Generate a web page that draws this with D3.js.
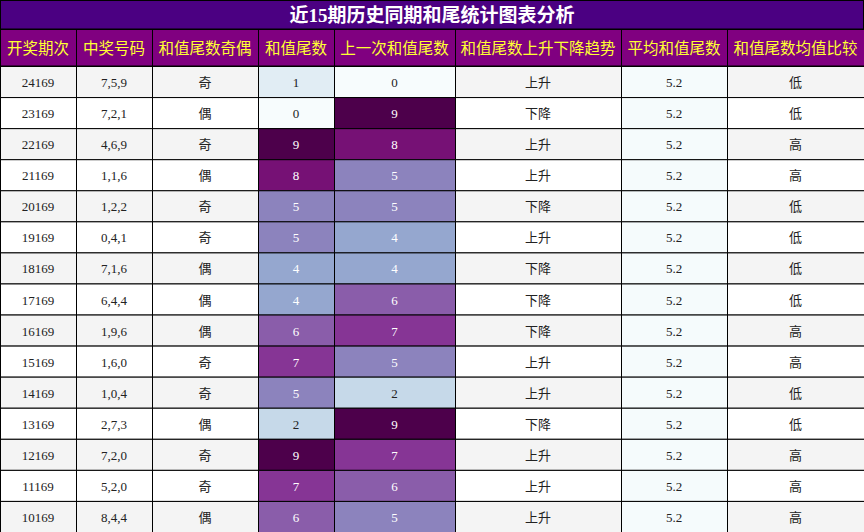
<!DOCTYPE html><html><head><meta charset="utf-8"><script src="https://cdn.jsdelivr.net/npm/d3@7"></script>
<style>body{margin:0;background:#fff}</style></head><body><svg id="c" width="864" height="532"></svg>
<script>
const title="近15期历史同期和尾统计图表分析";
const headers=["开奖期次","中奖号码","和值尾数奇偶","和值尾数","上一次和值尾数","和值尾数上升下降趋势","平均和值尾数","和值尾数均值比较"];
const periods=["24169","23169","22169","21169","20169","19169","18169","17169","16169","15169","14169","13169","12169","11169","10169"];
const numbers=["7,5,9","7,2,1","4,6,9","1,1,6","1,2,2","0,4,1","7,1,6","6,4,4","1,9,6","1,6,0","1,0,4","2,7,3","7,2,0","5,2,0","8,4,4"];
const parity=["奇","偶","奇","偶","奇","奇","偶","偶","偶","奇","奇","偶","奇","奇","偶"];
const tails=[1,0,9,8,5,5,4,4,6,7,5,2,9,7,6];
const prevTails=[0,9,8,5,5,4,4,6,7,5,2,9,7,6,5];
const trend=["上升","下降","上升","上升","下降","上升","下降","下降","下降","上升","上升","下降","上升","上升","上升"];
const avg=[5.2,5.2,5.2,5.2,5.2,5.2,5.2,5.2,5.2,5.2,5.2,5.2,5.2,5.2,5.2];
const cmp=["低","低","高","高","低","低","低","低","高","高","低","低","高","高","高"];
const colEdges=[0,76,152,258,334,455,621,727,864];
const svg=d3.select("#c");
const x=i=>colEdges[i];
const y=d3.scaleBand().domain(d3.range(15)).range([66,532]);
const color=d3.scaleSequential(d3.interpolateBuPu).domain([0,9]);
const F='"Liberation Serif","Noto Sans CJK SC",serif';
svg.append("rect").attr("x",0.5).attr("y",0.5).attr("width",863).attr("height",28.5).attr("fill","#4b0082").attr("stroke","#000");
svg.append("text").attr("x",432).attr("y",15).attr("text-anchor","middle").attr("dominant-baseline","central")
 .attr("fill","#fff").attr("font-weight","bold").attr("font-size",19).attr("font-family",F).text(title);
headers.forEach((h,i)=>{
 svg.append("rect").attr("x",x(i)+0.5).attr("y",29.5).attr("width",x(i+1)-x(i)).attr("height",36.5).attr("fill","#800080").attr("stroke","#000");
 svg.append("text").attr("x",(x(i)+x(i+1))/2).attr("y",48).attr("text-anchor","middle").attr("dominant-baseline","central")
  .attr("fill","#ffff33").attr("font-size",15.5).attr("font-family",F).text(h);
});
periods.forEach((p,r)=>{
 const base=r%2===0?"#f4f4f4":"#ffffff";
 const vals=[p,numbers[r],parity[r],tails[r],prevTails[r],trend[r],avg[r].toFixed(1),cmp[r]];
 vals.forEach((v,i)=>{
  let fill=base,tc="#222";
  if(i===3||i===4){fill=color(v);if(v>=4)tc="#fff";}
  if(i===6)fill="#f5fbfc";
  svg.append("rect").attr("x",x(i)+0.5).attr("y",y(r)+0.5).attr("width",x(i+1)-x(i)).attr("height",y.bandwidth()).attr("fill",fill).attr("stroke","#000");
  svg.append("text").attr("x",(x(i)+x(i+1))/2).attr("y",y(r)+y.bandwidth()/2+1).attr("text-anchor","middle").attr("dominant-baseline","central")
   .attr("fill",tc).attr("font-size",13).attr("font-family",F).text(v);
 });
});
</script></body></html>
